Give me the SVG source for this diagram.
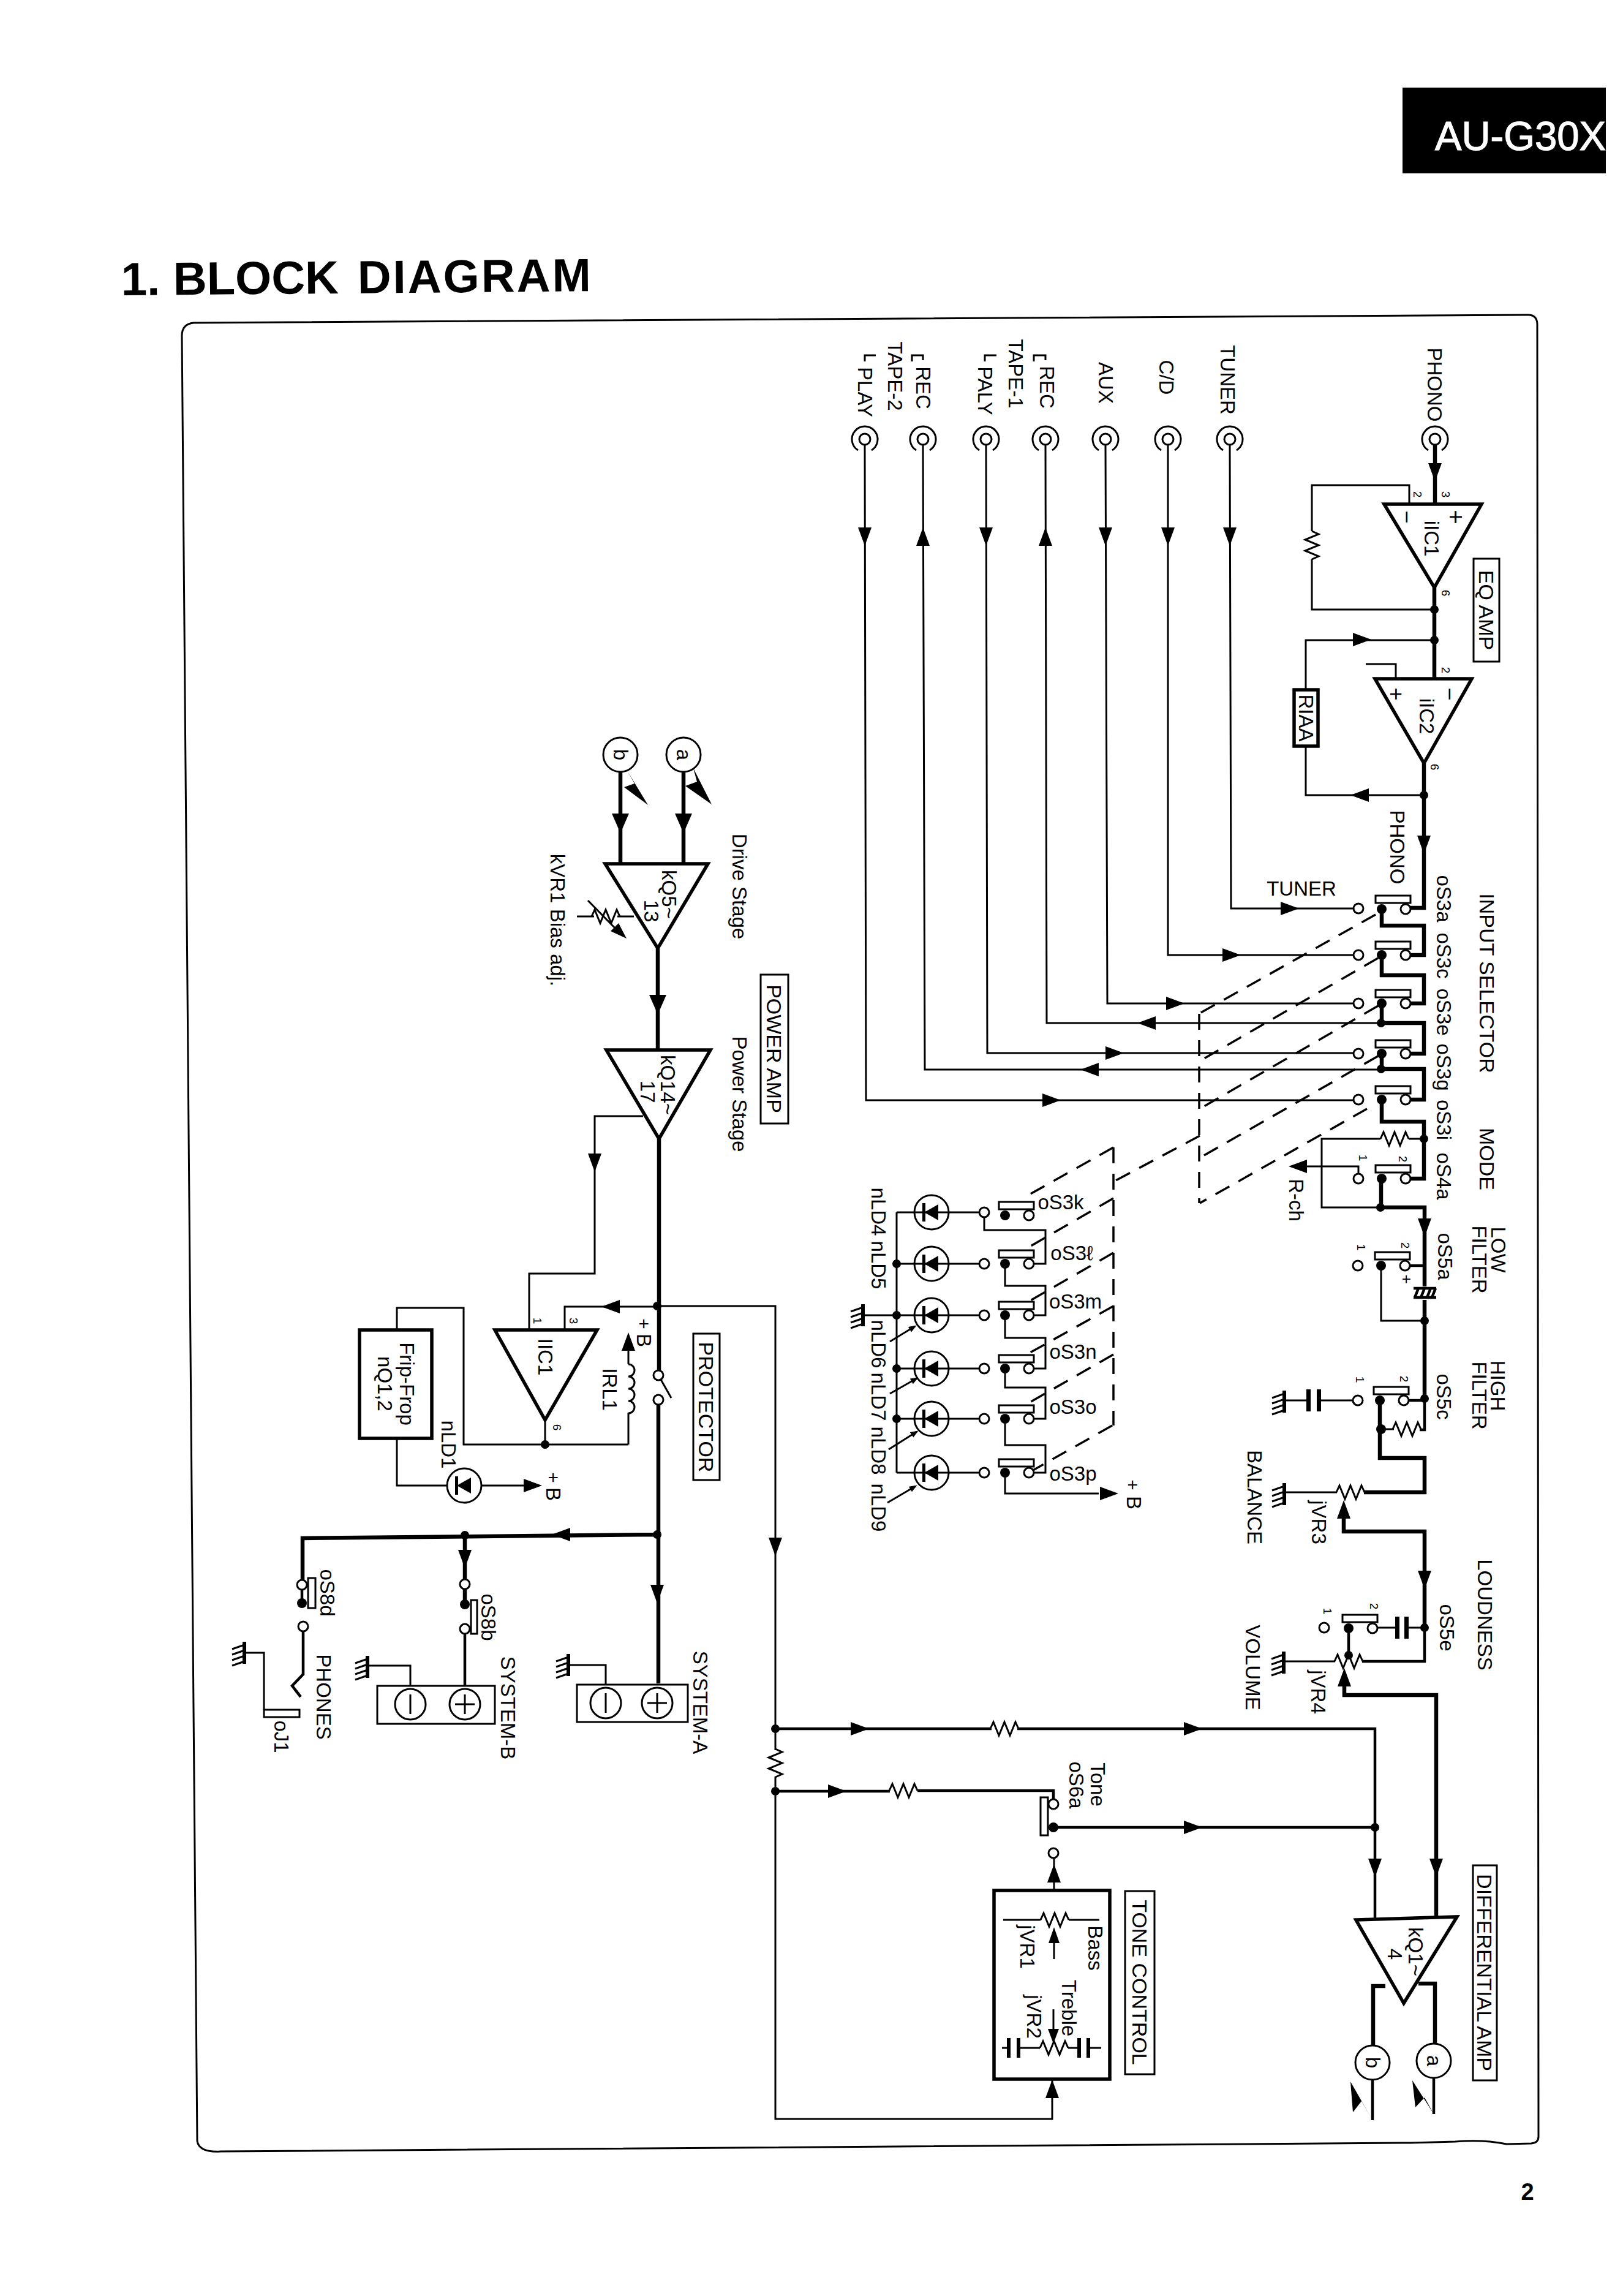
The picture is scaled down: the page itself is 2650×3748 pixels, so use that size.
<svg xmlns="http://www.w3.org/2000/svg" width="2650" height="3748" viewBox="0 0 2650 3748">
<style>
text{font-family:"Liberation Sans",Arial,sans-serif;font-size:33px;fill:#000}
.c{text-anchor:middle;dominant-baseline:central}
.s{font-size:34px}
.p{font-size:19px}
.t{fill:none;stroke:#000;stroke-width:3}
.m{fill:none;stroke:#000;stroke-width:4.5}
.k{fill:none;stroke:#000;stroke-width:6.5}
.d{fill:none;stroke:#000;stroke-width:3.5;stroke-dasharray:26 17}
.b{fill:#fff;stroke:#000;stroke-width:5.5}
.w{fill:#fff;stroke:#000;stroke-width:3}
.f{fill:#000}
.o{fill:#fff;stroke:#000;stroke-width:3}
</style>
<defs>
<polygon id="a" points="-15,-11 15,0 -15,11"/>
<polygon id="A" points="-16,-14 16,0 -16,14"/>
<circle id="n" r="7"/>
<circle id="z" r="8"/>
<circle id="q" r="8" class="o"/>
<path id="r" class="t" d="M-23 0L-18 -11L-9 11L0 -11L9 11L18 -11L23 0"/>
<g id="j"><circle r="9" class="o"/><path class="t" d="M-11 18A21 21 0 1 1 11 18"/></g>
<g id="g"><rect x="-3" y="-18" width="6" height="36"/><path class="t" d="M0 -13L-20 -6M0 -4L-20 3M0 5L-20 12M0 14L-20 21"/></g>
<g id="sw"><rect class="w" x="-10" y="-22" width="57" height="12"/><use href="#z"/><use href="#q" x="39"/></g>
<g id="led"><circle r="28" fill="none" stroke="#000" stroke-width="3"/><polygon points="-12,0 11,-13 11,13"/><rect x="-15" y="-15" width="5" height="30"/></g>
<marker id="ms" markerWidth="14" markerHeight="12" refX="10" refY="5" orient="auto" markerUnits="userSpaceOnUse"><polygon points="0,0 13,5 0,10"/></marker>
</defs>
<rect width="2650" height="3748" fill="#fff"/>

<g id="header"><rect x="2290" y="143" width="332" height="140" class="f"/>
<text x="2343" y="245" textLength="279" lengthAdjust="spacingAndGlyphs" style="font-size:66px;fill:#fff;stroke:#fff;stroke-width:1.2">AU-G30X</text></g>
<text id="title" transform="rotate(-0.5 198 482)" x="198" y="482" font-weight="bold" style="font-size:76px"><tspan x="198">1.</tspan> <tspan x="283">BLOCK</tspan> <tspan x="584" style="letter-spacing:3px">DIAGRAM</tspan></text>
<path id="frame" class="t" d="M297 548Q297 529 316 527L2495 514Q2510 514 2510 530L2512 3488Q2512 3498 2500 3499L2460 3500Q2420 3492 2376 3496L2303 3498L360 3512Q325 3514 322 3495Z"/>
<text id="page" class="c" x="2494" y="3578" font-weight="bold" style="font-size:38px">2</text>

<g id="connectors">
<path class="t" d="M1412 726L1414 1796H2211M1507 726L1510 1746H2255M1610 726L1612 1719H2211M1707 726L1709 1670H2255M1805 726L1808 1638H2211M1907 726V1559H2211M2008 726L2010 1483H2211"/>
<path class="k" d="M2343 726V823M2342 959V1108M2325 1246V1482H2302"/>
<path class="t" d="M2301 823V792H2142V867M2142 913V995H2342M2342 1045H2132V1126M2132 1218V1298H2325M2279 1108V1084H2230"/>
<path class="k" d="M2256 1484V1511H2325V1559H2302M2256 1559V1592H2325V1638H2302M2256 1638V1670H2325V1720H2302M2256 1720V1745H2325V1795H2302M2256 1795V1831H2325V1924H2302"/>
<path class="t" d="M2325 1859H2300M2254 1859H2158V1971H2254M2218 1917V1904H2125"/>
<path class="k" d="M2255 1924V1971H2326V2100M2326 2122V2283"/>
<path class="m" d="M2302 2066H2326M2326 2283V2334H2318M2301 2286H2326"/>
<path class="t" d="M2255 2066V2156H2326M2276 2333H2255M2183 2436H2097M2210 2286H2153M2136 2286H2097M2180 2712H2096M2326 2657H2297M2281 2657H2247"/>
<path class="k" d="M2253 2286V2380H2326V2436H2227M2194 2477V2500H2326V2657M2195 2753V2767H2345V3130"/>
<path class="m" d="M2326 2657V2712H2224M2202 2658V2702"/>
<path class="m" d="M1266 2822H1619M1661 2822H2245V3132M1720 2983H2245M1266 2924H1453M1498 2923H1720V2937"/>
<path class="t" d="M1073 2132H1266V2857M1266 2900V3459H1718V3394M1721 3032V3086"/>
<path class="k" d="M2262 3242H2242V3339M2316 3238H2343V3336M1116 1259V1410M1013 1259V1410M1074 1548V1714M1076 1859V2245M1075 2285V2748M1073 2505L494 2511V2580M759 2506V2579M759 2593V2619"/>
<path class="m" d="M2241 3395V3461M2341 3392V3451M759 2666V2752M495 2662V2733L477 2752L491 2770M493 2593V2617"/>
<path class="t" d="M1050 1822H971V2079H864V2171M922 2171V2133H1073M890 2318V2358M1026 2358H757V2135H648V2171M1026 2358V2306M1026 2227V2203M648 2348V2425H731M785 2425H855M1075 2245L1096 2282"/>
<path class="t" d="M989 2755V2718H928M670 2757V2719H600M431 2791V2698H399M1035 1496H1008M970 1496H942M960 1470L1010 1521"/>
<path class="t" d="M1464 1979V2404M1464 1979H1600M1464 2063H1600M1464 2147H1600M1464 2234H1600M1464 2316H1600M1464 2404H1600M1464 2147H1409M1607 1987V2008H1707V2063H1683M1641 2063V2099H1707V2147H1683M1641 2147V2184H1707V2234H1683M1641 2234V2265H1707V2316H1683M1641 2316V2359H1707V2404H1683M1641 2404V2438H1794"/>
<path class="t" d="M1453 2190L1494 2165" marker-end="url(#ms)"/>
<path class="t" d="M1453 2275L1497 2250" marker-end="url(#ms)"/>
<path class="t" d="M1451 2366L1497 2337" marker-end="url(#ms)"/>
<path class="t" d="M1449 2453L1495 2426" marker-end="url(#ms)"/>
<path class="d" d="M2246 1493L1959 1654M2250 1564L1959 1732M2250 1642L1959 1810M2250 1724L1959 1890M2232 1810L1959 1964M1959 1854L1818 1929M1818 1873L1670 1956M1818 1956L1671 2041M1818 2045L1677 2126M1818 2132L1673 2213M1818 2211L1673 2294M1816 2327L1685 2401"/>
<path class="d" d="M1958 1655V1964M1818 1873V2327"/>
<g id="arrowheads">
<use href="#a" transform="translate(1412 876)rotate(90)"/><use href="#a" transform="translate(1507 876)rotate(-90)"/><use href="#a" transform="translate(1610 876)rotate(90)"/><use href="#a" transform="translate(1707 876)rotate(-90)"/><use href="#a" transform="translate(1805 876)rotate(90)"/><use href="#a" transform="translate(1907 876)rotate(90)"/><use href="#a" transform="translate(2008 876)rotate(90)"/>
<use href="#a" transform="translate(2343 771)rotate(90)"/><use href="#a" transform="translate(2224 1044)"/><use href="#a" transform="translate(2220 1298)rotate(180)"/><use href="#a" transform="translate(2325 1379)rotate(90)"/>
<use href="#a" transform="translate(2106 1483)"/><use href="#a" transform="translate(2011 1559)"/><use href="#a" transform="translate(1919 1638)"/><use href="#a" transform="translate(1872 1670)rotate(180)"/><use href="#a" transform="translate(1820 1719)"/><use href="#a" transform="translate(1779 1746)rotate(180)"/><use href="#a" transform="translate(1717 1796)"/>
<use href="#a" transform="translate(2119 1904)rotate(180)"/><use href="#a" transform="translate(2326 2004)rotate(90)"/><use href="#a" transform="translate(2326 2579)rotate(90)"/>
<use href="#a" transform="translate(2194 2464)rotate(-90)"/><use href="#a" transform="translate(2195 2738)rotate(-90)"/>
<use href="#a" transform="translate(2345 3049)rotate(90)"/><use href="#a" transform="translate(2245 3049)rotate(90)"/><use href="#a" transform="translate(1404 2822)"/><use href="#a" transform="translate(1948 2822)"/><use href="#a" transform="translate(1948 2983)"/><use href="#a" transform="translate(1367 2924)"/><use href="#a" transform="translate(1266 2525)rotate(90)"/><use href="#a" transform="translate(1718 3410)rotate(-90)"/><use href="#a" transform="translate(1721 3058)rotate(-90)"/>
<use href="#A" transform="translate(1116 1344)rotate(90)"/><use href="#A" transform="translate(1013 1344)rotate(90)"/><use href="#A" transform="translate(1074 1640)rotate(90)"/><use href="#a" transform="translate(971 1898)rotate(90)"/><use href="#a" transform="translate(997 2133)rotate(180)"/><use href="#a" transform="translate(916 2505)rotate(180)"/><use href="#a" transform="translate(759 2545)rotate(90)"/><use href="#a" transform="translate(1073 2602)rotate(90)"/><use href="#a" transform="translate(1026 2190)rotate(-90)"/><use href="#a" transform="translate(870 2425)"/><use href="#a" transform="translate(1811 2438)"/>
<polygon points="1023,1532 997,1520 1010,1507"/>
<polygon points="2241,3461 2205,3398 2209,3448 2223,3430"/><polygon points="2341,3451 2306,3396 2311,3440 2326,3424"/><polygon points="1132,1254 1162,1313 1119,1283 1138,1276"/><polygon points="1024,1258 1058,1314 1019,1285 1036,1279"/>
</g>
<g id="junctions">
<use href="#n" x="2342" y="995"/><use href="#n" x="2342" y="1045"/><use href="#n" x="2325" y="1298"/><use href="#n" x="2255" y="1670"/><use href="#n" x="2255" y="1745"/><use href="#n" x="2325" y="1859"/><use href="#n" x="2254" y="1971"/><use href="#n" x="2326" y="2156"/><use href="#n" x="2326" y="2283"/><use href="#z" x="2255" y="2333"/><use href="#n" x="2326" y="2657"/><use href="#n" x="2202" y="2702"/><use href="#n" x="2245" y="2983"/><use href="#n" x="1266" y="2822"/><use href="#n" x="1266" y="2924"/><use href="#n" x="1073" y="2132"/><use href="#n" x="1073" y="2505"/><use href="#n" x="759" y="2506"/><use href="#n" x="890" y="2358"/><use href="#n" x="1464" y="2063"/><use href="#n" x="1464" y="2147"/><use href="#n" x="1464" y="2234"/><use href="#n" x="1464" y="2316"/>
</g>
</g>

<g id="resistors">
<use href="#r" transform="translate(2142 890)rotate(90)"/><use href="#r" transform="translate(2277 1859)"/><use href="#r" transform="translate(2297 2333)"/><use href="#r" transform="translate(2205 2436)"/><use href="#r" transform="translate(2202 2712)"/><use href="#r" transform="translate(1640 2822)"/><use href="#r" transform="translate(1475 2923)"/><use href="#r" transform="translate(1266 2878)rotate(90)"/><use href="#r" transform="translate(989 1496)"/>
</g>

<g id="jack-play"><use href="#j" x="1412" y="717"/><text class="c" transform="translate(1412 640)rotate(90)">PLAY</text><path class="t" d="M1430 580H1412V590"/></g>
<g id="jack-rec2"><use href="#j" x="1507" y="717"/><text class="c" transform="translate(1507 633)rotate(90)">REC</text><path class="t" d="M1489 590V580H1507V588"/></g>
<text class="c" id="tape2" transform="translate(1461 614)rotate(90)">TAPE-2</text>
<g id="jack-paly"><use href="#j" x="1610" y="717"/><text class="c" transform="translate(1608 638)rotate(90)">PALY</text><path class="t" d="M1627 580H1608V590"/></g>
<g id="jack-rec1"><use href="#j" x="1707" y="717"/><text class="c" transform="translate(1709 632)rotate(90)">REC</text><path class="t" d="M1688 590V580H1707V588"/></g>
<text class="c" id="tape1" transform="translate(1658 610)rotate(90)">TAPE-1</text>
<g id="jack-aux"><use href="#j" x="1805" y="717"/><text class="c" transform="translate(1805 625)rotate(90)">AUX</text></g>
<g id="jack-cd"><use href="#j" x="1907" y="717"/><text class="c" transform="translate(1904 616)rotate(90)">C/D</text></g>
<g id="jack-tuner"><use href="#j" x="2008" y="717"/><text class="c" transform="translate(2004 620)rotate(90)">TUNER</text></g>
<g id="jack-phono"><use href="#j" x="2343" y="717"/><text class="c" transform="translate(2342 628)rotate(90)">PHONO</text></g>

<g id="iIC1"><polygon class="b" points="2260,823 2419,823 2342,959"/><text class="c" transform="translate(2337 879)rotate(90)">iIC1</text><text class="c" transform="translate(2377 844)rotate(90)" style="font-size:40px">+</text><text class="c" transform="translate(2297 844)rotate(90)" style="font-size:36px">−</text><text class="c p" transform="translate(2360 807)rotate(90)">3</text><text class="c p" transform="translate(2314 807)rotate(90)">2</text><text class="c p" transform="translate(2360 968)rotate(90)">6</text></g>
<g id="iIC2"><polygon class="b" points="2245,1108 2403,1108 2325,1246"/><text class="c" transform="translate(2329 1169)rotate(90)">iIC2</text><text class="c" transform="translate(2279 1133)rotate(90)" style="font-size:36px">+</text><text class="c" transform="translate(2367 1133)rotate(90)" style="font-size:36px">−</text><text class="c p" transform="translate(2360 1094)rotate(90)">2</text><text class="c p" transform="translate(2342 1252)rotate(90)">6</text></g>
<g id="eq-amp"><rect class="t" x="2406" y="912" width="42" height="168" stroke-width="2"/><text class="c s" transform="translate(2427 996)rotate(90)">EQ AMP</text></g>
<g id="riaa"><rect class="b" x="2113" y="1126" width="39" height="92"/><text class="c" transform="translate(2132 1172)rotate(90)">RIAA</text></g>
<text class="c" id="lbl-phono" transform="translate(2281 1383)rotate(90)">PHONO</text>
<text class="c" id="lbl-tuner" x="2125" y="1450">TUNER</text>
<text class="c s" id="lbl-input" transform="translate(2428 1605)rotate(90)">INPUT SELECTOR</text>
<text class="c s" id="lbl-mode" transform="translate(2428 1892)rotate(90)">MODE</text>

<g id="S3a"><use href="#sw" x="2256" y="1484"/><use href="#q" x="2218" y="1483"/><text class="c" transform="translate(2357 1467)rotate(90)">oS3a</text></g>
<g id="S3c"><use href="#sw" x="2256" y="1559"/><use href="#q" x="2218" y="1559"/><text class="c" transform="translate(2357 1560)rotate(90)">oS3c</text></g>
<g id="S3e"><use href="#sw" x="2256" y="1638"/><use href="#q" x="2218" y="1638"/><text class="c" transform="translate(2357 1652)rotate(90)">oS3e</text></g>
<g id="S3g"><use href="#sw" x="2256" y="1720"/><use href="#q" x="2218" y="1720"/><text class="c" transform="translate(2357 1742)rotate(90)">oS3g</text></g>
<g id="S3i"><use href="#sw" x="2256" y="1795"/><use href="#q" x="2218" y="1795"/><text class="c" transform="translate(2357 1828)rotate(90)">oS3i</text></g>
<g id="S4a"><use href="#sw" x="2256" y="1924"/><use href="#q" x="2218" y="1924"/><text class="c" transform="translate(2357 1920)rotate(90)">oS4a</text><text class="c p" transform="translate(2225 1890)rotate(90)">1</text><text class="c p" transform="translate(2290 1892)rotate(90)">2</text></g>
<text class="c" id="rch" transform="translate(2116 1959)rotate(90)">R-ch</text>

<g id="S5a"><use href="#sw" x="2255" y="2066"/><use href="#q" x="2217" y="2066"/><text class="c" transform="translate(2359 2051)rotate(90)">oS5a</text><text class="c p" transform="translate(2222 2036)rotate(90)">1</text><text class="c p" transform="translate(2294 2033)rotate(90)">2</text><text class="c" transform="translate(2297 2088)rotate(90)" style="font-size:26px">+</text>
<path class="m" d="M2308 2103H2345M2308 2118H2345M2316 2103L2310 2118M2326 2103L2320 2118M2336 2103L2330 2118M2344 2103L2338 2118"/></g>
<g id="low-filter"><text class="c" transform="translate(2446 2040)rotate(90)">LOW</text><text class="c" transform="translate(2415 2056)rotate(90)">FILTER</text></g>
<g id="S5c"><use href="#sw" x="2253" y="2286"/><use href="#q" x="2217" y="2286"/><text class="c" transform="translate(2357 2280)rotate(90)">oS5c</text><text class="c p" transform="translate(2220 2252)rotate(90)">1</text><text class="c p" transform="translate(2292 2251)rotate(90)">2</text><rect x="2150" y="2268" width="7" height="36"/><rect x="2133" y="2268" width="7" height="36"/><use href="#g" x="2097" y="2288"/></g>
<g id="high-filter"><text class="c" transform="translate(2445 2262)rotate(90)">HIGH</text><text class="c" transform="translate(2415 2278)rotate(90)">FILTER</text></g>
<g id="VR3"><use href="#g" x="2097" y="2439"/><text class="c" transform="translate(2153 2485)rotate(90)">jVR3</text><text class="c" transform="translate(2048 2444)rotate(90)">BALANCE</text></g>
<g id="S5e"><use href="#sw" x="2202" y="2658"/><use href="#q" x="2162" y="2657"/><text class="c" transform="translate(2362 2657)rotate(90)">oS5e</text><text class="c p" transform="translate(2167 2630)rotate(90)">1</text><text class="c p" transform="translate(2243 2622)rotate(90)">2</text><rect x="2293" y="2639" width="7" height="36"/><rect x="2278" y="2639" width="7" height="36"/></g>
<text class="c" id="lbl-loud" transform="translate(2424 2636)rotate(90)">LOUDNESS</text>
<g id="VR4"><use href="#g" x="2096" y="2714"/><text class="c" transform="translate(2152 2762)rotate(90)">jVR4</text><text class="c" transform="translate(2045 2722)rotate(90)">VOLUME</text></g>

<g id="kQ1"><polygon class="b" points="2214,3134 2379,3129 2292,3270"/><text class="c" transform="translate(2311 3186)rotate(90)">kQ1~</text><text class="c" transform="translate(2277 3190)rotate(90)">4</text></g>
<g id="cb"><circle class="w" cx="2241" cy="3367" r="28"/><text class="c" transform="translate(2241 3367)rotate(90)">b</text></g>
<g id="ca"><circle class="w" cx="2341" cy="3364" r="28"/><text class="c" transform="translate(2341 3364)rotate(90)">a</text></g>
<g id="diff"><rect class="t" x="2405" y="3045" width="39" height="351" stroke-width="2"/><text class="c s" transform="translate(2424 3220)rotate(90)">DIFFERENTIAL AMP</text></g>

<g id="S6a"><rect class="w" x="1699" y="2934" width="12" height="62"/><use href="#q" x="1720" y="2945"/><use href="#z" x="1720" y="2983"/><use href="#q" x="1720" y="3025"/><text class="c" transform="translate(1792 2913)rotate(90)">Tone</text><text class="c" transform="translate(1757 2914)rotate(90)">oS6a</text></g>
<g id="tone"><rect class="b" x="1623" y="3086" width="189" height="308"/>
<path class="t" d="M1638 3134H1699M1745 3134H1795M1721 3198V3165M1665 3343H1698M1744 3343H1759M1636 3343H1647M1777 3343H1798M1720 3280V3320"/>
<use href="#r" transform="translate(1722 3134)"/><use href="#r" transform="translate(1721 3343)"/>
<polygon points="1721,3146 1712,3172 1730,3172"/><polygon points="1720,3336 1711,3312 1729,3312"/>
<rect x="1644" y="3327" width="6" height="32"/><rect x="1660" y="3327" width="6" height="32"/><rect x="1759" y="3327" width="6" height="32"/><rect x="1774" y="3327" width="6" height="32"/>
<text class="c" transform="translate(1788 3180)rotate(90)">Bass</text><text class="c" transform="translate(1677 3178)rotate(90)">jVR1</text><text class="c" transform="translate(1745 3278)rotate(90)">Treble</text><text class="c" transform="translate(1688 3292)rotate(90)">jVR2</text></g>
<g id="tone-lbl"><rect class="t" x="1837" y="3087" width="48" height="299" stroke-width="2"/><text class="c s" transform="translate(1861 3236)rotate(90)">TONE CONTROL</text></g>

<g id="ka"><circle class="w" cx="1116" cy="1232" r="28"/><text class="c" transform="translate(1116 1232)rotate(90)">a</text></g>
<g id="kb"><circle class="w" cx="1013" cy="1232" r="28"/><text class="c" transform="translate(1013 1232)rotate(90)">b</text></g>
<g id="kQ5"><polygon class="b" points="988,1410 1156,1410 1074,1548"/><text class="c" transform="translate(1092 1460)rotate(90)">kQ5~</text><text class="c" transform="translate(1063 1487)rotate(90)">13</text></g>
<g id="kQ14"><polygon class="b" points="990,1714 1160,1714 1076,1859"/><text class="c" transform="translate(1090 1771)rotate(90)">kQ14~</text><text class="c" transform="translate(1057 1782)rotate(90)">17</text></g>
<text class="c" id="lbl-drive" transform="translate(1207 1447)rotate(90)">Drive Stage</text>
<text class="c" id="lbl-powerstage" transform="translate(1207 1786)rotate(90)">Power Stage</text>
<g id="poweramp"><rect class="t" x="1242" y="1591" width="45" height="243" stroke-width="2"/><text class="c s" transform="translate(1264 1712)rotate(90)">POWER AMP</text></g>
<text class="c" id="lbl-bias" transform="translate(910 1502)rotate(90)">kVR1 Bias adj.</text>

<g id="IC1"><polygon class="b" points="808,2171 975,2171 890,2318"/><text class="c" transform="translate(890 2215)rotate(90)">IIC1</text><text class="c p" transform="translate(877 2156)rotate(90)">1</text><text class="c p" transform="translate(936 2156)rotate(90)">3</text><text class="c p" transform="translate(909 2330)rotate(90)">6</text></g>
<g id="flipflop"><rect class="b" x="587" y="2171" width="118" height="177"/><text class="c" transform="translate(664 2259)rotate(90)">Frip-Frop</text><text class="c" transform="translate(628 2259)rotate(90)">nQ1,2</text></g>
<g id="LD1"><use href="#led" x="758" y="2425"/><text class="c" transform="translate(732 2358)rotate(90)">nLD1</text><text class="c" transform="translate(903 2412)rotate(90)" style="font-size:30px">+</text><text class="c" transform="translate(903 2439)rotate(90)">B</text></g>
<g id="RL1"><path class="t" d="M1026 2227a10 10 0 1 1 0 20a10 10 0 1 1 0 20a10 10 0 1 1 0 20a10 10 0 1 1 0 20"/><text class="c" transform="translate(995 2268)rotate(90)">IRL1</text><text class="c" transform="translate(1051 2161)rotate(90)" style="font-size:30px">+</text><text class="c" transform="translate(1051 2188)rotate(90)">B</text></g>
<g id="relay"><use href="#q" x="1075" y="2245"/><use href="#q" x="1075" y="2285"/></g>
<g id="protector"><rect class="t" x="1132" y="2177" width="43" height="239" stroke-width="2"/><text class="c s" transform="translate(1153 2297)rotate(90)">PROTECTOR</text></g>

<g id="system-a"><rect class="w" x="942" y="2750" width="181" height="61"/><circle class="w" cx="1073" cy="2780" r="25"/><circle class="w" cx="989" cy="2780" r="25"/><path class="t" d="M1073 2764V2796M1057 2780H1089M989 2764V2796"/><use href="#g" x="928" y="2718"/><text class="c" transform="translate(1143 2779)rotate(90)">SYSTEM-A</text></g>
<g id="system-b"><rect class="w" x="616" y="2752" width="192" height="62"/><circle class="w" cx="759" cy="2782" r="25"/><circle class="w" cx="670" cy="2782" r="25"/><path class="t" d="M759 2766V2798M743 2782H775M670 2766V2798"/><use href="#g" x="600" y="2721"/><text class="c" transform="translate(829 2788)rotate(90)">SYSTEM-B</text></g>
<g id="S8b"><rect class="w" x="769" y="2612" width="10" height="55"/><use href="#q" x="759" y="2586"/><use href="#z" x="759" y="2619"/><use href="#q" x="759" y="2659"/><text class="c" transform="translate(797 2640)rotate(90)">oS8b</text></g>
<g id="S8d"><rect class="w" x="503" y="2576" width="12" height="49"/><use href="#q" x="493" y="2587"/><use href="#z" x="493" y="2617"/><use href="#q" x="495" y="2655"/><text class="c" transform="translate(534 2600)rotate(90)">oS8d</text></g>
<g id="J1"><rect class="w" x="431" y="2791" width="58" height="12"/><use href="#g" x="399" y="2698"/><text class="c" transform="translate(528 2770)rotate(90)">PHONES</text><text class="c" transform="translate(459 2835)rotate(90)">oJ1</text></g>

<g id="S3k"><use href="#sw" x="1641" y="1984"/><use href="#q" x="1607" y="1979"/><use href="#led" x="1521" y="1979"/><text class="c" x="1732" y="1962">oS3k</text><text class="c" transform="translate(1434 1978)rotate(90)">nLD4</text></g>
<g id="S3l"><use href="#sw" x="1641" y="2063"/><use href="#q" x="1607" y="2063"/><use href="#led" x="1521" y="2063"/><text class="c" x="1750" y="2045">oS3ℓ</text><text class="c" transform="translate(1434 2065)rotate(90)">nLD5</text></g>
<g id="S3m"><use href="#sw" x="1641" y="2147"/><use href="#q" x="1607" y="2147"/><use href="#led" x="1521" y="2147"/><use href="#g" x="1409" y="2147"/><text class="c" x="1756" y="2124">oS3m</text><text class="c" transform="translate(1434 2194)rotate(90)">nLD6</text></g>
<g id="S3n"><use href="#sw" x="1641" y="2234"/><use href="#q" x="1607" y="2234"/><use href="#led" x="1521" y="2234"/><text class="c" x="1752" y="2206">oS3n</text><text class="c" transform="translate(1434 2280)rotate(90)">nLD7</text></g>
<g id="S3o"><use href="#sw" x="1641" y="2316"/><use href="#q" x="1607" y="2316"/><use href="#led" x="1521" y="2316"/><text class="c" x="1752" y="2296">oS3o</text><text class="c" transform="translate(1434 2368)rotate(90)">nLD8</text></g>
<g id="S3p"><use href="#sw" x="1641" y="2404"/><use href="#q" x="1607" y="2404"/><use href="#led" x="1521" y="2404"/><text class="c" x="1752" y="2405">oS3p</text><text class="c" transform="translate(1434 2461)rotate(90)">nLD9</text></g>
<g id="plus-b"><text class="c" transform="translate(1849 2424)rotate(90)" style="font-size:30px">+</text><text class="c" transform="translate(1851 2453)rotate(90)">B</text></g>
</svg>
